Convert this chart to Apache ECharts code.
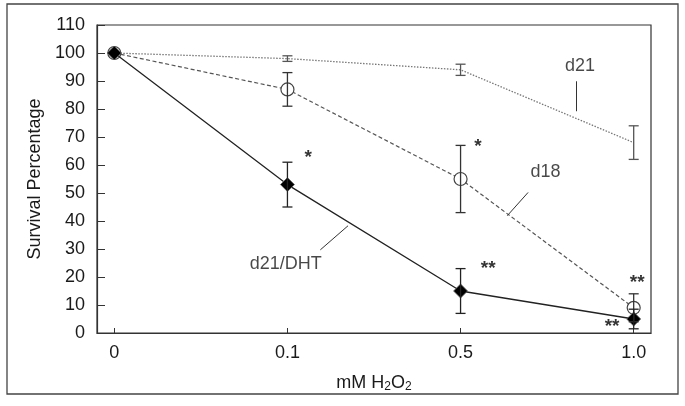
<!DOCTYPE html>
<html>
<head>
<meta charset="utf-8">
<style>
  html, body { margin: 0; padding: 0; background: #fff; }
  #main { width: 685px; height: 406px; }
</style>
<script src="https://cdn.jsdelivr.net/npm/echarts@6/dist/echarts.min.js"></script>
</head>
<body>
<div id="main"></div>
<script>
// 剂量 (x 轴类别)
var doses = ['0', '0.1', '0.5', '1.0'];
var yTicks = [0, 10, 20, 30, 40, 50, 60, 70, 80, 90, 100, 110];

// 存活率与误差
var d21 = [100, 98, 94, 68];
var d21Err = [0, 1, 2, 6];
var d18 = [100, 87, 55, 9];
var d18Err = [0, 6, 12, 5];
var dht = [100, 53, 15, 5];
var dhtErr = [0, 8, 8, 3.5];

// 标注文字 [x, y, 文本]
var notes = [
    [2.69, 95.5, 'd21'],
    [2.49, 57.5, 'd18'],
    [0.99, 24.5, 'd21/DHT']
];
var stars = [
    [1.12, 62.5, '*'],
    [2.10, 66.5, '*'],
    [2.16, 23, '**'],
    [3.02, 17.8, '**'],
    [2.875, 2.4, '**']
];
// 指示线
var leaders = [
    [[2.667, 89.9], [2.667, 79.2]],
    [[2.39, 50.2], [2.27, 41.9]],
    [[1.19, 29.7], [1.35, 38.3]]
];

function pts(arr) {
    var out = [];
    for (var i = 0; i < arr.length; i++) out.push([i, arr[i]]);
    return out;
}
function errs(arr, err) {
    var out = [];
    for (var i = 0; i < arr.length; i++) {
        if (err[i] > 0) out.push([i, arr[i] - err[i], arr[i] + err[i]]);
    }
    return out;
}
function labelled(arr) {
    return arr.map(function (n) {
        return { value: [n[0], n[1]], name: n[2] };
    });
}

// 误差棒
function errorBar(color) {
    return function (params, api) {
        var lo = api.coord([api.value(0), api.value(1)]);
        var hi = api.coord([api.value(0), api.value(2)]);
        var w = 5;
        var style = { stroke: color, lineWidth: 1.3 };
        return {
            type: 'group',
            children: [
                { type: 'line', shape: { x1: lo[0], y1: lo[1], x2: hi[0], y2: hi[1] }, style: style },
                { type: 'line', shape: { x1: lo[0] - w, y1: lo[1], x2: lo[0] + w, y2: lo[1] }, style: style },
                { type: 'line', shape: { x1: hi[0] - w, y1: hi[1], x2: hi[0] + w, y2: hi[1] }, style: style }
            ]
        };
    };
}

var txt = '#1a1a1a';
var leaderData = leaders.map(function (l) {
    return [{ coord: l[0] }, { coord: l[1] }];
});

var myChart = echarts.init(document.getElementById('main'));
myChart.setOption({
    animation: false,
    backgroundColor: '#fff',
    textStyle: { fontFamily: 'Liberation Sans, Arial, sans-serif' },
    grid: {
        left: 97, right: 34, top: 25, bottom: 73,
        show: true, borderColor: '#333', borderWidth: 1.2
    },
    graphic: [{
        type: 'rect',
        shape: { x: 7, y: 4, width: 671, height: 390 },
        style: { fill: 'none', stroke: '#444', lineWidth: 1.3 },
        silent: true
    }],
    xAxis: {
        type: 'value',
        min: -0.1,
        max: 3.1,
        name: 'mM H{s|2}O{s|2}',
        nameLocation: 'middle',
        nameGap: 40,
        nameTextStyle: {
            color: txt, fontSize: 18,
            rich: { s: { fontSize: 12, color: txt, padding: [8, 0, 0, 0] } }
        },
        splitLine: { show: false },
        axisLine: { onZero: false, lineStyle: { color: '#333', width: 1.2 } },
        axisTick: { inside: true, length: 5, customValues: [0, 1, 2, 3], lineStyle: { color: '#333' } },
        axisLabel: {
            customValues: [0, 1, 2, 3],
            color: txt, fontSize: 18, margin: 11,
            formatter: function (v) { return doses[Math.round(v)]; }
        }
    },
    yAxis: {
        type: 'value',
        min: 0,
        max: 110,
        interval: 10,
        name: 'Survival Percentage',
        nameLocation: 'middle',
        nameGap: 52,
        nameTextStyle: { color: txt, fontSize: 18 },
        splitLine: { show: false },
        axisLine: { show: true, onZero: false, lineStyle: { color: '#333', width: 1.2 } },
        axisTick: { inside: true, length: 8, lineStyle: { color: '#333' } },
        axisLabel: {
            color: txt, fontSize: 18, margin: 12,
            formatter: function (v) { return yTicks.indexOf(v) >= 0 ? String(v) : ''; }
        }
    },
    series: [
        {
            name: 'd21', type: 'line', data: pts(d21),
            symbol: 'none',
            lineStyle: { color: '#777', width: 1.3, type: [1.5, 1.5] },
            z: 2
        },
        {
            name: 'd18', type: 'line', data: pts(d18),
            symbol: 'circle', symbolSize: 13,
            itemStyle: { color: '#fff', borderColor: '#444', borderWidth: 1.2 },
            lineStyle: { color: '#555', width: 1.2, type: [4, 2.5] },
            z: 3
        },
        {
            name: 'd21/DHT', type: 'line', data: pts(dht),
            symbol: 'diamond', symbolSize: 14,
            itemStyle: { color: '#000', borderColor: '#666', borderWidth: 0.8 },
            lineStyle: { color: '#222', width: 1.3 },
            z: 4
        },
        { type: 'custom', data: errs(d21, d21Err), renderItem: errorBar('#555'), z: 5 },
        { type: 'custom', data: errs(d18, d18Err), renderItem: errorBar('#333'), z: 5 },
        { type: 'custom', data: errs(dht, dhtErr), renderItem: errorBar('#222'), z: 5 },
        {
            type: 'scatter', data: labelled(notes), symbolSize: 0,
            label: {
                show: true, position: 'inside',
                formatter: function (p) { return p.name; },
                color: txt, fontSize: 18
            },
            markLine: {
                symbol: 'none', silent: true,
                label: { show: false },
                lineStyle: { color: '#333', width: 1, type: 'solid' },
                data: leaderData
            },
            z: 6
        },
        {
            type: 'scatter', data: labelled(stars), symbolSize: 0,
            label: {
                show: true, position: 'inside',
                formatter: function (p) { return p.name; },
                color: '#000', fontSize: 19, fontWeight: 'bold'
            },
            z: 6
        }
    ]
});
</script>
</body>
</html>
